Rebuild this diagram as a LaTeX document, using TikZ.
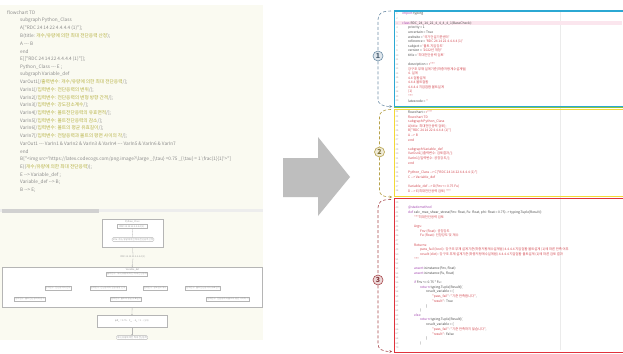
\documentclass[tikz,border=0pt]{standalone}
\usepackage{fontspec}
\setmainfont{Noto Sans CJK KR}
\newfontfamily\codefont{Noto Sans CJK KR}
\usetikzlibrary{arrows.meta}
\definecolor{panelbg}{HTML}{FAFAF1}
\definecolor{codegray}{HTML}{8C8C8C}
\definecolor{kor}{HTML}{B5B040}
\definecolor{arrowgray}{HTML}{BEBEBE}
\definecolor{bluebox}{HTML}{2BA8D3}
\definecolor{yelbox}{HTML}{F3D936}
\definecolor{redbox}{HTML}{E0323C}
\definecolor{greenline}{HTML}{8DC63F}
\definecolor{bracea}{HTML}{6F8FA8}
\definecolor{braceb}{HTML}{B7A24A}
\definecolor{bracec}{HTML}{A8484C}
\definecolor{rtext}{HTML}{4A4A4A}
\definecolor{rstr}{HTML}{D2474F}
\definecolor{rkw}{HTML}{A347B0}
\definecolor{rnumc}{HTML}{B0A0A0}
\definecolor{hl}{HTML}{FBE6EE}
\definecolor{mmline}{HTML}{B5B5B5}
\definecolor{mmtext}{HTML}{9A9A9A}
\newcommand\kr[1]{\textcolor{kor}{#1}}
\newcommand\st[1]{\textcolor{rstr}{#1}}
\newcommand\kw[1]{\textcolor{rkw}{#1}}
\newcommand\RL[4]{\node[rcode] (r#1) at ({402+#3*6},{#2}) {#4};\node[rnum] (n#1) at (397,{#2}) {#1};}
\tikzset{
 lcode/.style={anchor=west, inner sep=0pt, font=\codefont\fontsize{4.7}{5}\selectfont, text=codegray},
 rcode/.style={anchor=west, inner sep=0pt, font=\codefont\fontsize{3.3}{3.6}\selectfont, text=rtext},
 rnum/.style={anchor=center, inner sep=0pt, font=\codefont\fontsize{2.4}{2.8}\selectfont, text=rnumc},
 mmbox/.style={draw=mmline, line width=0.3pt, fill=white, inner sep=0.7pt, font=\fontsize{2.3}{2.6}\selectfont, text=mmtext},
 mmtxt/.style={inner sep=0pt, font=\fontsize{2.3}{2.6}\selectfont, text=mmtext},
 mmgroup/.style={draw=mmline, line width=0.3pt, fill=white, inner sep=0pt},
 mmarrow/.style={draw=mmline, line width=0.3pt, -{Stealth[length=1.4pt,width=1.4pt]}},
 panelbox/.style={line width=1.4pt},
 bracepath/.style={densely dashed, line width=0.6pt},
 numcircle/.style={circle, inner sep=0pt, minimum size=10pt, line width=0.6pt, font=\bfseries\fontsize{7}{7}\selectfont},
}
\begin{document}
\begin{tikzpicture}[x=1pt,y=-1pt]
\useasboundingbox (0,0) rectangle (623,353);
\fill[white] (0,0) rectangle (623,353);

% ---------- left panel ----------
\fill[panelbg] (0,5) rectangle (263,340);
\fill[black!7] (0,209) rectangle (263,212);
\fill[black!18] (2,209) rectangle (99,212.5);

\begin{scope}
\clip (0,5) rectangle (263,206);
\node[lcode] (l1) at (7,13) {flowchart TD};
\node[lcode] (l2) at (20,20.7) {subgraph Python\_Class};
\node[lcode] (l3) at (20,28.4) {A["RDC 24 14 22 4.4.4.4 (1)"];};
\node[lcode] (l4) at (20,36.1) {B(title: \kr{개수/유량에 의한 최대 전단응력 산정});};
\node[lcode] (l5) at (20,43.8) {A --- B};
\node[lcode] (l6) at (20,51.5) {end};
\node[lcode] (l7) at (20,59.2) {E[["RDC 24 14 22 4.4.4.4 (1)"]];};
\node[lcode] (l8) at (20,66.9) {Python\_Class --- E ;};
\node[lcode] (l9) at (20,74.6) {subgraph Variable\_def};
\node[lcode] (l10) at (20,82.3) {VarOut1[/\kr{출력변수: 개수/유량에 의한 최대 전단응력}/];};
\node[lcode] (l11) at (20,90) {VarIn1[/\kr{입력변수: 전단응력의 변위}/];};
\node[lcode] (l12) at (20,97.7) {VarIn2[/\kr{입력변수: 전단응력의 변형 방향 간격}/];};
\node[lcode] (l13) at (20,105.4) {VarIn3[/\kr{입력변수: 강도감소계수}/];};
\node[lcode] (l14) at (20,113.1) {VarIn4[/\kr{입력변수: 볼트전단응력의 유효면적}/];};
\node[lcode] (l15) at (20,120.8) {VarIn5[/\kr{입력변수: 볼트전단응력의 감소}/];};
\node[lcode] (l16) at (20,128.5) {VarIn6[/\kr{입력변수: 볼트의 평균 유효길이}/];};
\node[lcode] (l17) at (20,136.2) {VarIn7[/\kr{입력변수: 전달응력과 볼트의 평면 사이의 각}/];};
\node[lcode] (l18) at (20,143.9) {VarOut1 --- VarIn1 \& VarIn2 \& VarIn3 \& VarIn4 --- VarIn5 \& VarIn6 \& VarIn7};
\node[lcode] (l19) at (20,151.6) {end};
\node[lcode] (l20) at (20,159.3) {B["<img src='https://latex.codecogs.com/png.image?\textbackslash large \_\{\textbackslash tau\} =0.75 \_\{\textbackslash tau\} = 1 \textbackslash frac\{1\}\{1\}'>"]};
\node[lcode] (l21) at (20,167) {E((\kr{개수/유량에 의한 최대 전단응력}));};
\node[lcode] (l22) at (20,174.7) {E --> Variable\_def ;};
\node[lcode] (l23) at (20,182.4) {Variable\_def --> B;};
\node[lcode] (l24) at (20,190.1) {B --> E;};
\end{scope}

% mermaid render
\node[mmgroup, anchor=north west, minimum width=61pt, minimum height=28pt] (pc) at (102,219) {};
\node[mmtxt] (pcl) at (132.5,221.6) {Python\_Class};
\node[mmbox, minimum width=30pt] (mA) at (132,226.5) {RDC 24 14 22 4.4.4.4 (1)};
\node[mmbox, rounded corners=1pt] (mB) at (133,239.5) {title: 개수/유량에 의한 최대 전단응력 산정};
\draw[mmline, line width=0.3pt] (mA) -- (mB);
\node[mmtxt] (mE) at (133,257) {RDC 24 14 22 4.4.4.4 (1)};
\draw[mmline, line width=0.3pt] (pc.south) -- (mE.north);
\node[mmgroup, anchor=north west, minimum width=260pt, minimum height=40pt] (vd) at (2,267) {};
\draw[mmarrow] (mE.south) -- (vd.north);
\node[mmtxt] (vdl) at (132.5,269.3) {Variable\_def};
\node[mmbox] (vo1) at (127,274) {출력변수: 개수/유량에 의한 최대 전단응력};
\node[mmbox] (vi1) at (58,288) {입력변수: 전단응력의 변위};
\node[mmbox] (vi2) at (108,288) {입력변수: 전단응력의 변형 방향 간격};
\node[mmbox] (vi3) at (155,288) {입력변수: 강도감소계수};
\node[mmbox] (vi4) at (203,288) {입력변수: 볼트전단응력의 유효면적};
\node[mmbox] (vi5) at (30,299) {입력변수: 볼트전단응력의 감소};
\node[mmbox] (vi6) at (126,299) {입력변수: 볼트의 평균 유효길이};
\node[mmbox] (vi7) at (228,299) {입력변수: 전달응력과 볼트의 평면 사이의 각};
\node[mmbox, minimum width=70pt, minimum height=12pt] (mimg) at (132,321.5) {φR\textsubscript{n} = 0.75 · F\textsubscript{nv} · A\textsubscript{b} = 1 · (1/1)};
\draw[mmarrow] (vd.south) -- (mimg.north);
\node[mmbox, rounded corners=1pt] (mEnd) at (132,337.5) {개수/유량에 의한 최대 전단응력};
\draw[mmarrow] (mimg.south) -- (mEnd.north);

% ---------- middle arrow ----------
\fill[arrowgray] (283,158) -- (318,158) -- (318,137) -- (350,177) -- (318,216) -- (318,197) -- (283,197) -- cycle;

% ---------- right panel ----------
\fill[white] (393,10) rectangle (623,352);
\draw[black!8, line width=0.4pt] (560,12) -- (560,350);
\fill[hl] (394,21) rectangle (622,25.4);

\begin{scope}
\clip (394,11) rectangle (622,351);
\RL{1}{14}{0}{\kw{import} typing}
\RL{2}{18.6}{0}{}
\RL{3}{23.2}{0}{\kw{class} RDC\_24\_14\_22\_4\_4\_4\_4\_1(BaseCheck):}
\RL{4}{27.7}{1}{priority = 1}
\RL{5}{32.3}{1}{uncertain = True}
\RL{6}{36.9}{1}{website = \st{'국가건설기준센터'}}
\RL{7}{41.5}{1}{reference = \st{'RDC 24 14 22 4.4.4.4 (1)'}}
\RL{8}{46.1}{1}{subject = \st{'볼트 지압강도'}}
\RL{9}{50.6}{1}{version = \st{'2022년 개정'}}
\RL{10}{55.2}{1}{title = \st{'최대전단응력 검토'}}
\RL{11}{59.8}{0}{}
\RL{12}{64.4}{1}{description = \st{r"""}}
\RL{13}{69}{1}{\st{강구조 부재 설계기준(하중저항계수설계법)}}
\RL{14}{73.5}{1}{\st{4. 설계}}
\RL{15}{78.1}{1}{\st{4.4 접합설계}}
\RL{16}{82.7}{1}{\st{4.4.4 볼트접합}}
\RL{17}{87.3}{1}{\st{4.4.4.4 지압접합 볼트설계}}
\RL{18}{91.9}{1}{\st{(1)}}
\RL{19}{96.4}{1}{\st{"""}}
\RL{20}{101}{1}{latexcode = \st{''}}
\RL{21}{112}{1}{flowchart = \st{r"""}}
\RL{22}{116.7}{1}{\st{flowchart TD}}
\RL{23}{121.3}{1}{\st{subgraph Python\_Class}}
\RL{24}{126}{1}{\st{A[title: 최대전단응력 검토];}}
\RL{25}{130.6}{1}{\st{B["RDC 24 14 22 4.4.4.4 (1)"]}}
\RL{26}{135.3}{1}{\st{A --> B}}
\RL{27}{139.9}{1}{\st{end}}
\RL{28}{144.6}{0}{}
\RL{29}{149.2}{1}{\st{subgraph Variable\_def}}
\RL{30}{153.9}{1}{\st{VarOut1[/출력변수: 검토결과/];}}
\RL{31}{158.5}{1}{\st{VarIn1[/입력변수: 공칭강도/];}}
\RL{32}{163.2}{1}{\st{end}}
\RL{33}{167.8}{0}{}
\RL{34}{172.5}{1}{\st{Python\_Class --> C["RDC 24 14 22 4.4.4.4 (1)"]}}
\RL{35}{177.1}{1}{\st{C --> Variable\_def}}
\RL{36}{181.8}{0}{}
\RL{37}{186.4}{1}{\st{Variable\_def --> D(Fnv <= 0.75 Fu)}}
\RL{38}{191}{1}{\st{D --> E(최대전단응력 검토) """}}
\RL{39}{203}{0}{}
\RL{40}{207.7}{1}{\kw{@staticmethod}}
\RL{41}{212.4}{1}{\kw{def} calc\_max\_shear\_stress(Fnv: float, Fu: float, phi: float = 0.75) -> typing.Tuple[Result]:}
\RL{42}{217}{2}{\st{"""최대전단응력 검토}}
\RL{43}{221.7}{0}{}
\RL{44}{226.4}{2}{\st{Args:}}
\RL{45}{231.1}{3}{\st{Fnv (float): 공칭강도}}
\RL{46}{235.8}{3}{\st{Fu (float): 인장강도 및 계수}}
\RL{47}{240.4}{0}{}
\RL{48}{245.1}{2}{\st{Returns:}}
\RL{49}{249.8}{3}{\st{pass\_fail (bool): 강구조 부재 설계기준(하중저항계수설계법)  4.4.4.4 지압접합 볼트설계 (1)에 따른 만족 여부}}
\RL{50}{254.5}{3}{\st{result (dict): 강구조 부재 설계기준(하중저항계수설계법)  4.4.4.4 지압접합 볼트설계 (1)에 따른 검토 결과}}
\RL{51}{259.2}{2}{\st{"""}}
\RL{52}{263.8}{0}{}
\RL{53}{268.5}{2}{\kw{assert} isinstance(Fnv, float)}
\RL{54}{273.2}{2}{\kw{assert} isinstance(Fu, float)}
\RL{55}{277.9}{0}{}
\RL{56}{282.6}{2}{\kw{if} Fnv <= 0.75 * Fu :}
\RL{57}{287.2}{3}{\kw{return} typing.Tuple[Result](}
\RL{58}{291.9}{4}{result\_variable = \{}
\RL{59}{296.6}{5}{\st{"pass\_fail"}: \st{"기준 만족합니다"},}
\RL{60}{301.3}{5}{\st{"result"}: True}
\RL{61}{306}{4}{\}}
\RL{62}{310.6}{3}{)}
\RL{63}{315.3}{2}{\kw{else}:}
\RL{64}{320}{3}{\kw{return} typing.Tuple[Result](}
\RL{65}{324.7}{4}{result\_variable = \{}
\RL{66}{329.4}{5}{\st{"pass\_fail"}: \st{"기준 만족하지 않습니다"},}
\RL{67}{334}{5}{\st{"result"}: False}
\RL{68}{338.7}{4}{\}}
\RL{69}{343.4}{3}{)}
\RL{70}{348.1}{0}{}
\end{scope}

\node[draw=bluebox, panelbox, anchor=north west, minimum width=229pt, minimum height=95pt, inner sep=0pt] (boxA) at (393.5,10.5) {};
\draw[greenline, line width=1pt] (393.5,107) -- (622.5,107);
\node[draw=yelbox, panelbox, anchor=north west, minimum width=229pt, minimum height=87.5pt, inner sep=0pt] (boxB) at (393.5,108.5) {};
\node[draw=redbox, panelbox, anchor=north west, minimum width=229pt, minimum height=153.5pt, inner sep=0pt] (boxC) at (393.5,198) {};

% ---------- braces ----------
\node[numcircle, draw=bracea, fill=bracea!22, text=bracea!70!black] (c1) at (378,56) {1};
\node[numcircle, draw=braceb, fill=braceb!22, text=braceb!70!black] (c2) at (379.5,152) {2};
\node[numcircle, draw=bracec, fill=bracec!22, text=bracec!80!black] (c3) at (378,280) {3};

\coordinate (b1t) at (391,11);
\coordinate (b1b) at (392,106.5);
\coordinate (b2t) at (391,109.5);
\coordinate (b2b) at (392,197);
\coordinate (b3t) at (391,199.5);
\coordinate (b3b) at (392,351.5);

\draw[bracea, bracepath] (b1t) .. controls (381,11) and (378,14) .. (378,20) -- (c1.north);
\draw[bracea, bracepath, -{Stealth[length=2.5pt,width=2.5pt]}] (c1.south) -- (378,99) .. controls (378,104) and (382,106.5) .. (b1b);
\draw[braceb, bracepath] (b2t) .. controls (383,109.5) and (379.5,112) .. (379.5,117) -- (c2.north);
\draw[braceb, bracepath, -{Stealth[length=2.5pt,width=2.5pt]}] (c2.south) -- (379.5,190) .. controls (379.5,195) and (383,197) .. (b2b);
\draw[bracec, bracepath] (b3t) .. controls (381,199.5) and (378,202) .. (378,208) -- (c3.north);
\draw[bracec, bracepath, -{Stealth[length=2.5pt,width=2.5pt]}] (c3.south) -- (378,344) .. controls (378,349) and (382,351.5) .. (b3b);
\end{tikzpicture}
\end{document}
